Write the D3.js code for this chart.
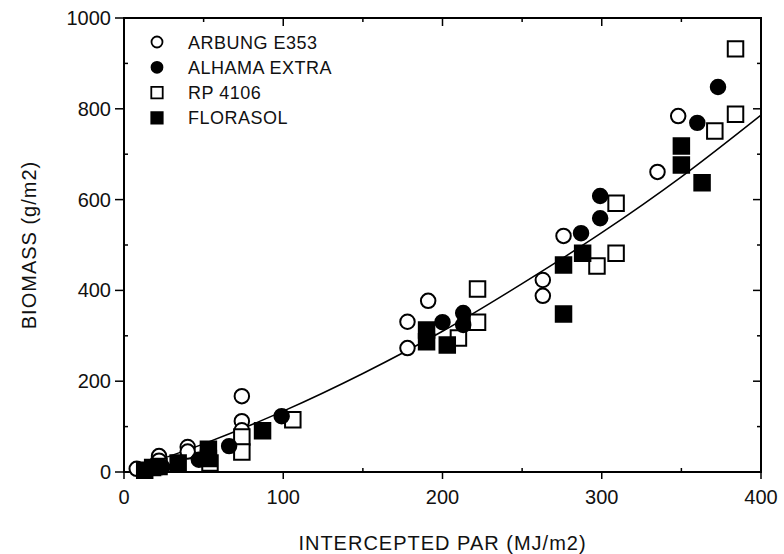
<html>
<head>
<script src="https://cdnjs.cloudflare.com/ajax/libs/d3/7.8.5/d3.min.js"></script>
<style>
  body { margin: 0; background: #fff; }
  svg text { font-family: 'Liberation Sans', Arial, sans-serif; fill: #111; }
  .tick-label { font-size: 20px; }
  .legend text { font-size: 18px; letter-spacing: 0.5px; }
  .axis-title { font-size: 20px; letter-spacing: 1px; }
</style>
</head>
<body>
<svg id="chart"></svg>
<script>
  // Data: intercepted PAR (MJ/m2) vs biomass (g/m2)
  const arbungX = [8, 22, 22, 40, 40, 74, 74, 74, 178, 178, 191, 263, 263, 276, 335, 348];
  const arbungY = [7, 35, 25, 55, 45, 167, 112, 92, 331, 273, 377, 423, 388, 520, 661, 784];

  const alhamaX = [24, 47, 66, 99, 200, 213, 213, 287, 299, 299, 360, 373];
  const alhamaY = [11, 27, 57, 123, 330, 350, 324, 526, 559, 608, 769, 848];

  const rpX = [22, 54, 74, 74, 106, 210, 222, 222, 297, 309, 309, 371, 384, 384];
  const rpY = [12, 20, 77, 44, 115, 295, 330, 403, 454, 482, 592, 751, 788, 932];

  const floraX = [13, 18, 34, 53, 53, 87, 190, 190, 203, 276, 276, 288, 350, 350, 363];
  const floraY = [4, 10, 20, 50, 30, 91, 313, 287, 280, 456, 348, 482, 718, 676, 637];

  // fitted curve, points
  const curveX = [8, 50, 100, 150, 200, 250, 300, 350, 400];
  const curveY = [10, 62, 134, 217, 310, 415, 527, 650, 786];

  const seriesNames = ['ARBUNG E353', 'ALHAMA EXTRA', 'RP 4106', 'FLORASOL'];
  const xTicks = [0, 100, 200, 300, 400];
  const yTicks = [0, 200, 400, 600, 800, 1000];

  const W = 784, H = 554;
  const margin = {top: 18, right: 23, bottom: 82, left: 124};
  const width = W - margin.left - margin.right;
  const height = H - margin.top - margin.bottom;

  const svg = d3.select('#chart').attr('width', W).attr('height', H);
  const g = svg.append('g').attr('transform', 'translate(' + margin.left + ',' + margin.top + ')');

  const x = d3.scaleLinear().domain([0, 400]).range([0, width]);
  const y = d3.scaleLinear().domain([0, 1000]).range([height, 0]);

  // frame
  g.append('rect')
    .attr('width', width).attr('height', height)
    .attr('fill', 'none').attr('stroke', '#000').attr('stroke-width', 2);

  // minor ticks (inward) and major ticks on all sides
  const xMinor = d3.range(50, 400, 100);
  const yMinor = d3.range(100, 1000, 200);
  const ticks = g.append('g').attr('stroke', '#000').attr('stroke-width', 1.5);

  xTicks.forEach(function(v) {
    ticks.append('line').attr('x1', x(v)).attr('x2', x(v)).attr('y1', height).attr('y2', height + 7);
    ticks.append('line').attr('x1', x(v)).attr('x2', x(v)).attr('y1', 0).attr('y2', 8);
  });
  xMinor.forEach(function(v) {
    ticks.append('line').attr('x1', x(v)).attr('x2', x(v)).attr('y1', height).attr('y2', height - 4);
    ticks.append('line').attr('x1', x(v)).attr('x2', x(v)).attr('y1', 0).attr('y2', 4);
  });
  yTicks.forEach(function(v) {
    ticks.append('line').attr('x1', 0).attr('x2', -9).attr('y1', y(v)).attr('y2', y(v));
    ticks.append('line').attr('x1', width).attr('x2', width - 8).attr('y1', y(v)).attr('y2', y(v));
  });
  yMinor.forEach(function(v) {
    ticks.append('line').attr('x1', 0).attr('x2', 4).attr('y1', y(v)).attr('y2', y(v));
    ticks.append('line').attr('x1', width).attr('x2', width - 4).attr('y1', y(v)).attr('y2', y(v));
  });

  // tick labels
  g.selectAll('.xl').data(xTicks).enter().append('text')
    .attr('class', 'tick-label')
    .attr('x', function(d) { return x(d); })
    .attr('y', height + 32)
    .attr('text-anchor', 'middle')
    .text(function(d) { return d; });

  g.selectAll('.yl').data(yTicks).enter().append('text')
    .attr('class', 'tick-label')
    .attr('x', -13)
    .attr('y', function(d) { return y(d) + 7; })
    .attr('text-anchor', 'end')
    .text(function(d) { return d; });

  // axis titles
  svg.append('text')
    .attr('class', 'axis-title')
    .attr('transform', 'translate(36,' + (margin.top + height / 2) + ') rotate(-90)')
    .attr('text-anchor', 'middle')
    .text('BIOMASS (g/m2)');

  svg.append('text')
    .attr('class', 'axis-title')
    .attr('x', margin.left + width / 2)
    .attr('y', 550)
    .attr('text-anchor', 'middle')
    .text('INTERCEPTED PAR (MJ/m2)');

  // curve
  const line = d3.line()
    .x(function(d, i) { return x(curveX[i]); })
    .y(function(d, i) { return y(curveY[i]); })
    .curve(d3.curveMonotoneX);
  g.append('path')
    .datum(curveX)
    .attr('d', line)
    .attr('fill', 'none')
    .attr('stroke', '#000')
    .attr('stroke-width', 1.5);

  // markers
  function drawSeries(xs, ys, shape, filled) {
    const pts = xs.map(function(v, i) { return {x: v, y: ys[i]}; });
    return g.append('g').selectAll('path').data(pts).enter().append('path')
      .attr('transform', function(d) { return 'translate(' + x(d.x) + ',' + y(d.y) + ')'; })
      .attr('d', d3.symbol().type(shape).size(shape === d3.symbolCircle ? 165 : 240))
      .attr('fill', filled ? '#000' : '#fff')
      .attr('stroke', '#000')
      .attr('stroke-width', 2);
  }
  drawSeries(arbungX, arbungY, d3.symbolCircle, false);
  drawSeries(rpX, rpY, d3.symbolSquare, false);
  drawSeries(alhamaX, alhamaY, d3.symbolCircle, true);
  drawSeries(floraX, floraY, d3.symbolSquare, true);

  // legend
  const legendShapes = [d3.symbolCircle, d3.symbolCircle, d3.symbolSquare, d3.symbolSquare];
  const legendFill = [false, true, false, true];
  const legend = svg.append('g').attr('class', 'legend');
  seriesNames.forEach(function(name, i) {
    const ly = 42 + i * 25.3;
    legend.append('path')
      .attr('transform', 'translate(157,' + ly + ')')
      .attr('d', d3.symbol().type(legendShapes[i]).size(i < 2 ? 95 : 130))
      .attr('fill', legendFill[i] ? '#000' : '#fff')
      .attr('stroke', '#000')
      .attr('stroke-width', 1.8);
    legend.append('text')
      .attr('x', 188)
      .attr('y', ly + 6.5)
      .text(name);
  });
</script>
</body>
</html>
